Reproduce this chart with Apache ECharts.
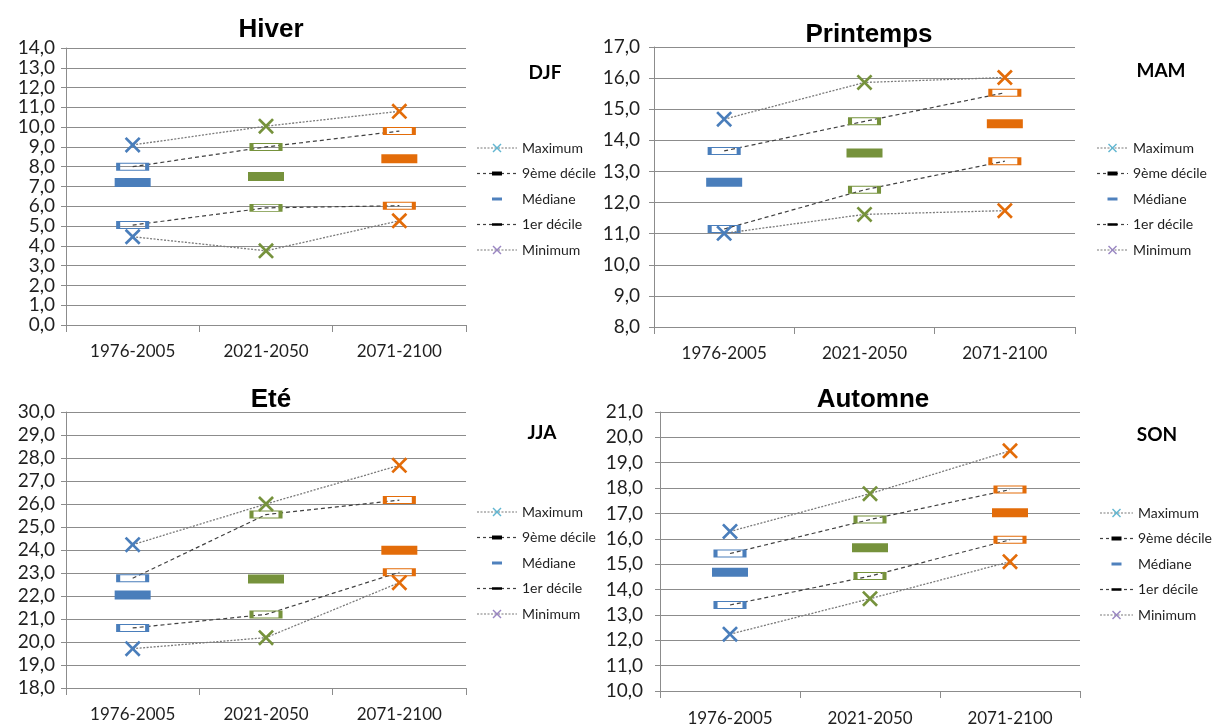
<!DOCTYPE html>
<html>
<head>
<meta charset="utf-8">
<script src="https://cdn.jsdelivr.net/npm/echarts@6/dist/echarts.min.js"></script>
<style>
  html, body { margin: 0; padding: 0; background: #fff; }
  #chart { width: 1215px; height: 727px; }
</style>
</head>
<body>
<div id="chart"></div>
<script>
// Périodes (axe des abscisses)
const periods = ['1976-2005', '2021-2050', '2071-2100'];

// Hiver (DJF)
const hiverMax = [9.1, 10.05, 10.8];
const hiverD9  = [8.0, 9.0, 9.8];
const hiverMed = [7.2, 7.5, 8.4];
const hiverD1  = [5.05, 5.92, 6.03];
const hiverMin = [4.46, 3.75, 5.27];

// Printemps (MAM)
const printempsMax = [14.68, 15.86, 16.02];
const printempsD9  = [13.66, 14.61, 15.53];
const printempsMed = [12.65, 13.59, 14.53];
const printempsD1  = [11.15, 12.41, 13.33];
const printempsMin = [11.01, 11.62, 11.74];

// Eté (JJA)
const eteMax = [24.23, 26.0, 27.68];
const eteD9  = [22.77, 25.54, 26.17];
const eteMed = [22.04, 22.74, 23.99];
const eteD1  = [20.61, 21.2, 23.03];
const eteMin = [19.71, 20.19, 22.58];

// Automne (SON)
const automneMax = [16.29, 17.78, 19.47];
const automneD9  = [15.42, 16.76, 17.94];
const automneMed = [14.68, 15.65, 17.03];
const automneD1  = [13.39, 14.53, 15.96];
const automneMin = [12.24, 13.64, 15.1];

// Bornes des axes verticaux
const axisMin = [0, 8, 18, 10];
const axisMax = [14, 17, 30, 21];

const titles = ['Hiver', 'Printemps', 'Eté', 'Automne'];
const codes = ['DJF', 'MAM', 'JJA', 'SON'];
const seriesNames = ['Maximum', '9ème décile', 'Médiane', '1er décile', 'Minimum'];

const seasons = [
  [hiverMax, hiverD9, hiverMed, hiverD1, hiverMin],
  [printempsMax, printempsD9, printempsMed, printempsD1, printempsMin],
  [eteMax, eteD9, eteMed, eteD1, eteMin],
  [automneMax, automneD9, automneMed, automneD1, automneMin]
];

// Style
const periodColors = ['#4a7ebb', '#76923c', '#e36c09'];
const maxColor = '#62b6d1';
const minColor = '#9a86c2';
const medColor = '#4f81bd';
const gridColor = '#8c8c8c';
const textColor = '#1f1f1f';
const dotLine = '#7a7a7a';
const dashLine = '#404040';
const FONT = 'Lato, "Open Sans", sans-serif';
const CROSS = 'path://M0,1.9L1.9,0L8,6.1L14.1,0L16,1.9L9.9,8L16,14.1L14.1,16L8,9.9L1.9,16L0,14.1L6.1,8Z';

const grids = [
  { left: 66,  top: 48,  width: 400, height: 277 },
  { left: 654, top: 47,  width: 421, height: 280 },
  { left: 66,  top: 412, width: 400, height: 276 },
  { left: 660, top: 412, width: 420, height: 280 }
];
const titleCenters = [[266, 12], [864, 17], [266, 382], [868, 382]];
const codeCenters = [[540, 58], [1156, 56], [537, 418], [1152, 420]];
// Légendes : début de l'échantillon, centre de la première ligne, longueur du trait
const legendPos = [
  { x: 477, y: 148, w: 40 },
  { x: 1097, y: 148, w: 31 },
  { x: 477, y: 512, w: 40 },
  { x: 1100, y: 513, w: 33 }
];
const legendStep = 25.5;
const labelMargins = [11, 14, 11, 17];
const xLabelMargins = [18, 18, 18, 19];

const fmt = v => v.toFixed(1).replace('.', ',');

function pointItems(values, styleFor) {
  return values.map((v, i) => ({ value: v, itemStyle: styleFor(periodColors[i]) }));
}

const series = [];
seasons.forEach((s, p) => {
  const [mx, d9, med, d1, mn] = s;
  const common = { xAxisIndex: p, yAxisIndex: p, silent: true, animation: false, emphasis: { disabled: true } };
  const hollow = c => ({ color: 'rgba(255,255,255,0)', borderColor: c, borderWidth: 2 });

  series.push(Object.assign({
    name: seriesNames[0], type: 'line', symbol: CROSS, symbolSize: 16, z: 4,
    lineStyle: { color: dotLine, width: 1.3, type: [2, 1.5] },
    data: pointItems(mx, c => ({ color: c }))
  }, common));

  series.push(Object.assign({
    name: seriesNames[1], type: 'line', symbol: 'rect', symbolSize: [29, 7], z: 3,
    lineStyle: { color: dashLine, width: 1.2, type: [4, 3] },
    data: pointItems(d9, hollow)
  }, common));

  series.push(Object.assign({
    name: seriesNames[2], type: 'line', symbol: 'rect', symbolSize: [36, 9], z: 2,
    lineStyle: { opacity: 0, width: 0 },
    data: pointItems(med, c => ({ color: c }))
  }, common));

  series.push(Object.assign({
    name: seriesNames[3], type: 'line', symbol: 'rect', symbolSize: [29, 7], z: 3,
    lineStyle: { color: dashLine, width: 1.2, type: [4, 3] },
    data: pointItems(d1, hollow)
  }, common));

  series.push(Object.assign({
    name: seriesNames[4], type: 'line', symbol: CROSS, symbolSize: 16, z: 4,
    lineStyle: { color: dotLine, width: 1.3, type: [2, 1.5] },
    data: pointItems(mn, c => ({ color: c }))
  }, common));
});

// Légende dessinée : trait, marqueur et libellé pour chaque série
function legendGraphics(pos) {
  const els = [];
  const cx = pos.x + pos.w / 2;
  const cross = (y, color) => [
    { type: 'line', shape: { x1: cx - 4, y1: y - 4, x2: cx + 4, y2: y + 4 }, style: { stroke: color, lineWidth: 1.5 } },
    { type: 'line', shape: { x1: cx - 4, y1: y + 4, x2: cx + 4, y2: y - 4 }, style: { stroke: color, lineWidth: 1.5 } }
  ];
  const line = (y, color, dash) => ({
    type: 'line', shape: { x1: pos.x, y1: y, x2: pos.x + pos.w, y2: y },
    style: { stroke: color, lineWidth: 1.2, lineDash: dash }
  });
  const bar = (y, h, color) => ({
    type: 'rect', shape: { x: cx - 5, y: y - h / 2, width: 10, height: h }, style: { fill: color }
  });
  seriesNames.forEach((name, k) => {
    const y = pos.y + k * legendStep;
    if (k === 0 || k === 4) {
      els.push(line(y, dotLine, [2, 1.5]));
      els.push(...cross(y, k === 0 ? maxColor : minColor));
    } else if (k === 1 || k === 3) {
      els.push(line(y, dashLine, [3, 3]));
      els.push(bar(y, k === 1 ? 4 : 2.5, '#000'));
    } else {
      els.push(bar(y, 3, medColor));
    }
    els.push({
      type: 'text', x: pos.x + pos.w + 5, y: y,
      style: { text: name, fontFamily: FONT, fontSize: 14, fill: textColor, verticalAlign: 'middle', align: 'left' }
    });
  });
  return els;
}

const option = {
  backgroundColor: '#fff',
  animation: false,
  title: [
    ...titles.map((t, i) => ({
      text: t, left: titleCenters[i][0], top: titleCenters[i][1], textAlign: 'center',
      textStyle: { fontFamily: '"Liberation Sans", Arial, sans-serif', fontWeight: 'bold', fontSize: 26, color: '#000' }
    })),
    ...codes.map((t, i) => ({
      text: t, left: codeCenters[i][0], top: codeCenters[i][1], textAlign: 'center',
      textStyle: { fontFamily: FONT, fontWeight: 'bold', fontSize: 19, color: '#000' }
    }))
  ],
  graphic: legendPos.map(pos => ({ type: 'group', silent: true, children: legendGraphics(pos) })),
  grid: grids.map(g => Object.assign({ containLabel: false }, g)),
  xAxis: grids.map((g, i) => ({
    type: 'category', gridIndex: i, data: periods, boundaryGap: true,
    axisLine: { show: true, lineStyle: { color: gridColor, width: 1 } },
    axisTick: { show: true, length: 7, lineStyle: { color: gridColor } },
    axisLabel: { fontFamily: FONT, fontSize: 17, color: textColor, margin: xLabelMargins[i] },
    splitLine: { show: false }
  })),
  yAxis: grids.map((g, i) => ({
    type: 'value', gridIndex: i, min: axisMin[i], max: axisMax[i], interval: 1,
    axisLine: { show: true, lineStyle: { color: gridColor, width: 1 } },
    axisTick: { show: true, length: 5, lineStyle: { color: gridColor } },
    axisLabel: { fontFamily: FONT, fontSize: 19, color: textColor, margin: labelMargins[i], formatter: fmt },
    splitLine: { show: true, lineStyle: { color: gridColor, width: 1 } }
  })),
  series: series
};

const chart = echarts.init(document.getElementById('chart'), null, { renderer: 'canvas' });
chart.setOption(option);
</script>
</body>
</html>
